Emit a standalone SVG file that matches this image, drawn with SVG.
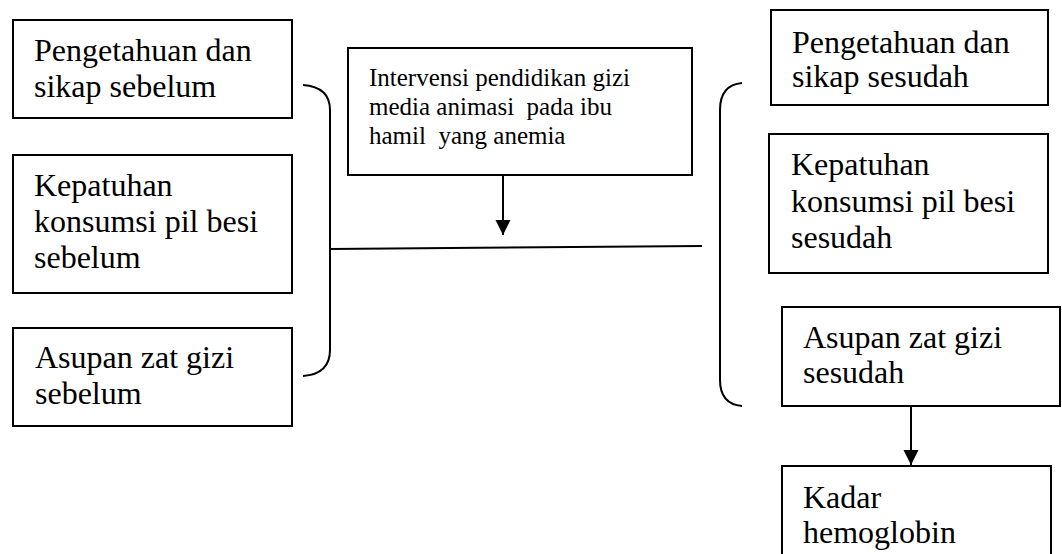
<svg xmlns="http://www.w3.org/2000/svg" width="1062" height="554" viewBox="0 0 1062 554">
<style>
.box{fill:#fff;stroke:#000;stroke-width:2}
.t{font-family:"Liberation Serif","Times New Roman",serif;font-size:32px;fill:#000}
.s{font-family:"Liberation Serif","Times New Roman",serif;font-size:25px;fill:#000}
.ln{fill:none;stroke:#000;stroke-width:2}
</style>
<defs>
<marker id="ah" markerUnits="userSpaceOnUse" markerWidth="16" markerHeight="16" viewBox="0 0 16 16" refX="15" refY="8" orient="auto">
<path d="M0,0.5 L15,8 L0,15.5 Z" fill="#000"/>
</marker>
</defs>
<rect width="1062" height="554" fill="#fff"/>
<g id="connectors">
<path class="ln" d="M303,85 Q330,87 330,110 L330,350 Q330,374 303,376"/>
<path class="ln" d="M742,83 Q720,85 720,110 L720,380 Q720,404 742,406"/>
<line class="ln" x1="330" y1="249" x2="702" y2="246"/>
<line class="ln" x1="503" y1="176" x2="503" y2="235" marker-end="url(#ah)"/>
<line class="ln" x1="911" y1="407" x2="911" y2="465" marker-end="url(#ah)"/>
</g>
<g id="n1">
<rect class="box" x="13" y="20" width="279" height="98"/>
<text class="t" x="34" y="61">Pengetahuan dan</text>
<text class="t" x="34" y="97">sikap sebelum</text>
</g>
<g id="n2">
<rect class="box" x="13" y="155" width="279" height="138"/>
<text class="t" x="34" y="196">Kepatuhan</text>
<text class="t" x="34" y="232">konsumsi pil besi</text>
<text class="t" x="34" y="268">sebelum</text>
</g>
<g id="n3">
<rect class="box" x="13" y="328" width="279" height="98"/>
<text class="t" x="35" y="368">Asupan zat gizi</text>
<text class="t" x="35" y="404">sebelum</text>
</g>
<g id="n4">
<rect class="box" x="348" y="48" width="344" height="127"/>
<text class="s" x="369" y="86" xml:space="preserve">Intervensi pendidikan gizi</text>
<text class="s" x="369" y="115" xml:space="preserve">media animasi  pada ibu</text>
<text class="s" x="369" y="144" xml:space="preserve">hamil  yang anemia</text>
</g>
<g id="n5">
<rect class="box" x="771" y="10" width="277" height="95"/>
<text class="t" x="792" y="53">Pengetahuan dan</text>
<text class="t" x="792" y="87">sikap sesudah</text>
</g>
<g id="n6">
<rect class="box" x="769" y="134" width="279" height="139"/>
<text class="t" x="791" y="175">Kepatuhan</text>
<text class="t" x="791" y="212">konsumsi pil besi</text>
<text class="t" x="791" y="248">sesudah</text>
</g>
<g id="n7">
<rect class="box" x="782" y="307" width="278" height="99"/>
<text class="t" x="803" y="348">Asupan zat gizi</text>
<text class="t" x="803" y="383">sesudah</text>
</g>
<g id="n8">
<rect class="box" x="782" y="466" width="269" height="100"/>
<text class="t" x="803" y="508">Kadar</text>
<text class="t" x="803" y="543">hemoglobin</text>
</g>
</svg>
